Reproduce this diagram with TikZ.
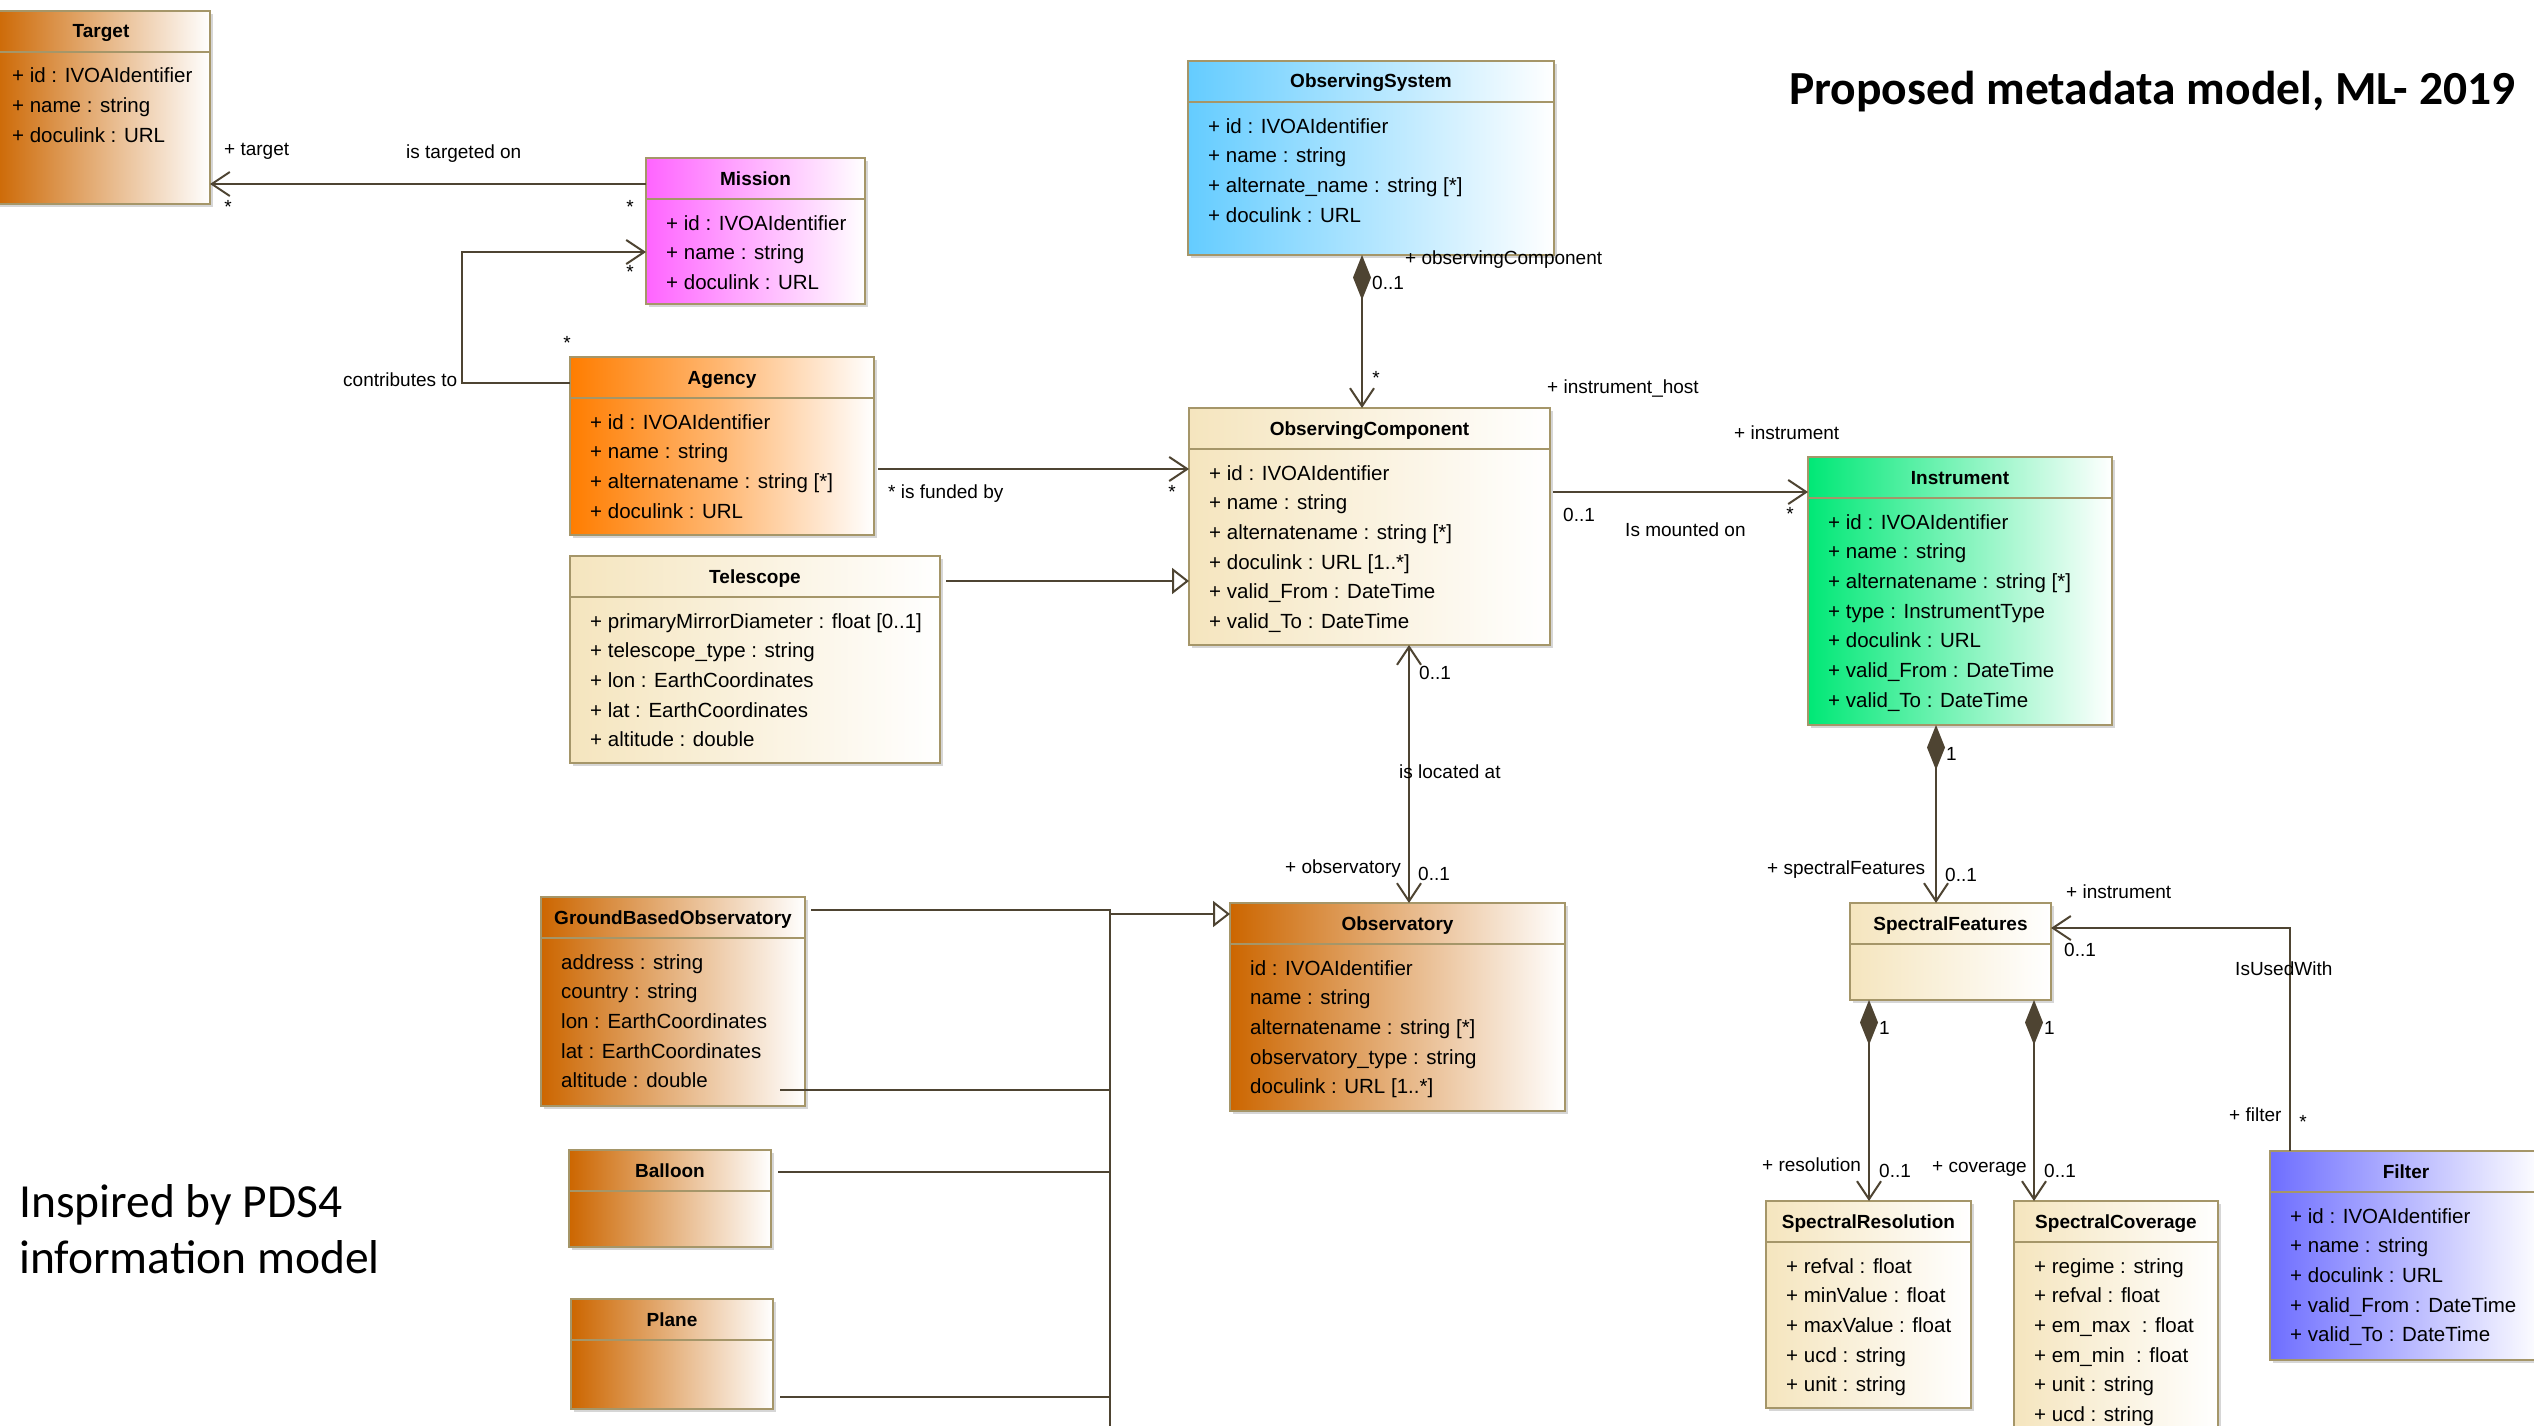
\documentclass[tikz,border=0pt]{standalone}
\usepackage{fontspec}
\setmainfont{Liberation Sans}
\newfontfamily\calib{Carlito}
\usetikzlibrary{arrows.meta,shadows,calc}

\definecolor{brownor}{RGB}{204,102,0}
\definecolor{agencyor}{RGB}{255,125,0}
\definecolor{magentac}{RGB}{255,100,255}
\definecolor{skyc}{RGB}{100,204,255}
\definecolor{greenc}{RGB}{0,232,118}
\definecolor{filterc}{RGB}{110,110,255}
\definecolor{creamc}{RGB}{245,229,190}
\definecolor{bordc}{RGB}{165,150,105}
\definecolor{linec}{RGB}{78,68,50}

\newcommand{\attrfont}{\fontsize{20.5}{24}\selectfont}
\newcommand{\lblfont}{\fontsize{19}{23}\selectfont}
\newcommand{\ttlfont}{\fontsize{19}{23}\selectfont\bfseries}

\tikzset{
  classbox/.style={draw=bordc, line width=2pt, anchor=north west, outer sep=0pt, inner sep=0pt,
    drop shadow={shadow xshift=3pt, shadow yshift=-3pt, fill=black!40, opacity=.4}},
  divider/.style={draw=bordc, line width=2pt},
  titletext/.style={font=\ttlfont, anchor=base, inner sep=0pt},
  attrtext/.style={font=\attrfont, anchor=base west, inner sep=0pt},
  lab/.style={font=\lblfont, anchor=base west, inner sep=0pt},
  starlab/.style={font=\lblfont, anchor=base, inner sep=0pt},
  assoc/.style={draw=linec, line width=2pt},
  myBarb/.tip={Straight Barb[length=18pt,width=24pt]},
  myDiam/.tip={Diamond[length=45pt,width=18pt]},
  myTri/.tip={Triangle[open,length=17pt,width=26pt,fill=white]},
  brownfill/.style={left color=brownor, right color=white},
  creamfill/.style={left color=creamc, right color=white},
}

% #1 name, #2 x, #3 y, #4 w, #5 h, #6 fill style, #7 title, #8 attributes
\newcommand{\umlclass}[8]{%
  \node[classbox, #6, minimum width=#4pt, minimum height=#5pt] (#1) at (#2,#3) {};
  \draw[divider] ([yshift=-41pt]#1.north west) -- ([yshift=-41pt]#1.north east);
  \node[titletext] (#1-t) at ([yshift=-27pt]#1.north) {#7};
  \foreach \myat [count=\myi] in {#8} {%
    \node[attrtext] (#1-a\myi) at ([xshift=20pt,yshift={-72pt-(\myi-1)*29.7pt}]#1.north west) {\myat};}
}

\begin{document}
\begin{tikzpicture}[x=1pt,y=-1pt]
\useasboundingbox (0,0) rectangle (2534,1426);
\clip (0,0) rectangle (2534,1426);
\fill[white] (0,0) rectangle (2534,1426);

% ---------- classes ----------
\umlclass{Target}{-8}{11}{218}{193}{brownfill}{Target}
  {{+ id : IVOAIdentifier},{+ name : string},{+ doculink : URL}}
\umlclass{Mission}{646}{158}{219}{146}{left color=magentac, right color=white}{Mission}
  {{+ id : IVOAIdentifier},{+ name : string},{+ doculink : URL}}
\umlclass{Agency}{570}{357}{304}{178}{left color=agencyor, right color=white, middle color=agencyor!55!white}{Agency}
  {{+ id : IVOAIdentifier},{+ name : string},{+ alternatename : string [*]},{+ doculink : URL}}
\umlclass{Telescope}{570}{556}{370}{207}{creamfill}{Telescope}
  {{+ primaryMirrorDiameter : float [0..1]},{+ telescope\_type : string},{+ lon : EarthCoordinates},{+ lat : EarthCoordinates},{+ altitude : double}}
\umlclass{OS}{1188}{61}{366}{194}{left color=skyc, right color=white}{ObservingSystem}
  {{+ id : IVOAIdentifier},{+ name : string},{+ alternate\_name : string [*]},{+ doculink : URL}}
\umlclass{OC}{1189}{408}{361}{237}{creamfill}{ObservingComponent}
  {{+ id : IVOAIdentifier},{+ name : string},{+ alternatename : string [*]},{+ doculink : URL [1..*]},{+ valid\_From : DateTime},{+ valid\_To : DateTime}}
\umlclass{Instrument}{1808}{457}{304}{268}{left color=greenc, right color=white}{Instrument}
  {{+ id : IVOAIdentifier},{+ name : string},{+ alternatename : string [*]},{+ type : InstrumentType},{+ doculink : URL},{+ valid\_From : DateTime},{+ valid\_To : DateTime}}
\umlclass{SF}{1850}{903}{201}{97}{creamfill}{SpectralFeatures}{}
\umlclass{SR}{1766}{1201}{205}{207}{creamfill}{SpectralResolution}
  {{+ refval : float},{+ minValue : float},{+ maxValue : float},{+ ucd : string},{+ unit : string}}
\umlclass{SC}{2014}{1201}{204}{240}{creamfill}{SpectralCoverage}
  {{+ regime : string},{+ refval : float},{+ em\_max\ \ : float},{+ em\_min\ \ : float},{+ unit : string},{+ ucd : string}}
\umlclass{Filter}{2270}{1151}{272}{209}{left color=filterc, right color=white}{Filter}
  {{+ id : IVOAIdentifier},{+ name : string},{+ doculink : URL},{+ valid\_From : DateTime},{+ valid\_To : DateTime}}
\umlclass{Observatory}{1230}{903}{335}{208}{brownfill}{Observatory}
  {{id : IVOAIdentifier},{name : string},{alternatename : string [*]},{observatory\_type : string},{doculink : URL [1..*]}}
\umlclass{GBO}{541}{897}{264}{209}{brownfill}{GroundBasedObservatory}
  {{address : string},{country : string},{lon : EarthCoordinates},{lat : EarthCoordinates},{altitude : double}}
\umlclass{Balloon}{569}{1150}{202}{97}{brownfill}{Balloon}{}
\umlclass{Plane}{571}{1299}{202}{110}{brownfill}{Plane}{}

% ---------- connectors ----------
% Mission -> Target
\coordinate (c1) at ($(Mission.north west)+(0,26)$);
\draw[assoc,-{myBarb}] (c1) -- (c1 -| Target.east);
% Agency -> Mission
\coordinate (c2a) at ($(Agency.north west)+(0,26)$);
\coordinate (c2b) at ($(Mission.north west)+(0,94)$);
\coordinate (k2) at ($(c2b)+(-184,0)$);
\draw[assoc,-{myBarb}] (c2a) -| (k2) -- (c2b);
% Agency -> ObservingComponent
\coordinate (c3) at ($(Agency.north east)+(4,112)$);
\draw[assoc,-{myBarb}] (c3) -- (c3 -| OC.west);
% Telescope -> ObservingComponent (generalization)
\coordinate (c4) at ($(Telescope.north east)+(6,25)$);
\draw[assoc,-{myTri}] (c4) -- (c4 -| OC.west);
% ObservingSystem -> ObservingComponent (composition)
\coordinate (c5) at ($(OS.south west)+(174,0)$);
\draw[assoc,{myDiam}-{myBarb}] (c5) -- (c5 |- OC.north);
% ObservingComponent -> Instrument
\coordinate (c6) at ($(OC.north east)+(3,84)$);
\draw[assoc,-{myBarb}] (c6) -- (c6 -| Instrument.west);
% Observatory <-> ObservingComponent
\coordinate (c7) at ($(OC.south west)+(220,0)$);
\draw[assoc,{myBarb}-{myBarb}] (c7) -- (c7 |- Observatory.north);
% Instrument -> SpectralFeatures (composition)
\coordinate (c8) at ($(Instrument.south west)+(128,0)$);
\draw[assoc,{myDiam}-{myBarb}] (c8) -- (c8 |- SF.north);
% Filter -> SpectralFeatures
\coordinate (c9a) at ($(Filter.north west)+(20,0)$);
\coordinate (c9b) at ($(SF.north east)+(0,25)$);
\draw[assoc,-{myBarb}] (c9a) |- (c9b);
% SpectralFeatures -> SpectralResolution / SpectralCoverage
\coordinate (c10) at ($(SF.south west)+(19,0)$);
\draw[assoc,{myDiam}-{myBarb}] (c10) -- (c10 |- SR.north);
\coordinate (c11) at ($(SF.south west)+(184,0)$);
\draw[assoc,{myDiam}-{myBarb}] (c11) -- (c11 |- SC.north);
% generalization tree to Observatory
\coordinate (trunk) at (1110,910);
\coordinate (trunkend) at (1110,1440);
\coordinate (g1) at ($(GBO.north east)+(6,13)$);
\draw[assoc] (g1) -- (g1 -| trunk) -- (trunkend);
\coordinate (g2) at ($(Observatory.north west)+(0,11)$);
\draw[assoc,-{myTri}] (g2 -| trunk) -- (g2);
\coordinate (g3) at ($(GBO.north east)+(-25,193)$);
\draw[assoc] (g3) -- (g3 -| trunk);
\coordinate (g4) at ($(Balloon.north east)+(7,22)$);
\draw[assoc] (g4) -- (g4 -| trunk);
\coordinate (g5) at ($(Plane.north east)+(7,98)$);
\draw[assoc] (g5) -- (g5 -| trunk);

% ---------- labels ----------
\node[lab] (l1) at (224,156) {+ target};
\node[lab] (l2) at (406,158) {is targeted on};
\node[starlab] (l3) at (228,213) {*};
\node[starlab] (l4) at (630,213) {*};
\node[lab] (l5) at (343,386) {contributes to};
\node[starlab] (l6) at (630,278) {*};
\node[starlab] (l7) at (567,349) {*};
\node[lab] (l8) at (888,498) {* is funded by};
\node[starlab] (l9) at (1172,498) {*};
\node[lab] (l10) at (1405,264) {+ observingComponent};
\node[lab] (l11) at (1372,289) {0..1};
\node[starlab] (l12) at (1376,384) {*};
\node[lab] (l13) at (1547,393) {+ instrument\_host};
\node[lab] (l14) at (1734,439) {+ instrument};
\node[lab] (l15) at (1563,521) {0..1};
\node[lab] (l16) at (1625,536) {Is mounted on};
\node[starlab] (l17) at (1790,520) {*};
\node[lab] (l18) at (1419,679) {0..1};
\node[lab] (l19) at (1399,778) {is located at};
\node[lab] (l20) at (1285,873) {+ observatory};
\node[lab] (l21) at (1418,880) {0..1};
\node[lab] (l22) at (1946,760) {1};
\node[lab] (l23) at (1767,874) {+ spectralFeatures};
\node[lab] (l24) at (1945,881) {0..1};
\node[lab] (l25) at (2066,898) {+ instrument};
\node[lab] (l26) at (2064,956) {0..1};
\node[lab] (l27) at (2235,975) {IsUsedWith};
\node[lab] (l28) at (2229,1121) {+ filter};
\node[starlab] (l29) at (2303,1128) {*};
\node[lab] (l30) at (1879,1034) {1};
\node[lab] (l31) at (1762,1171) {+ resolution};
\node[lab] (l32) at (1879,1177) {0..1};
\node[lab] (l33) at (2044,1034) {1};
\node[lab] (l34) at (1932,1172) {+ coverage};
\node[lab] (l35) at (2044,1177) {0..1};

% ---------- free texts ----------
\node[font={\calib\fontsize{47.5}{57}\selectfont\bfseries}, anchor=base west, inner sep=0pt] (title) at (1789,105) {Proposed metadata model, ML- 2019};
\node[font={\calib\fontsize{47.5}{57}\selectfont}, anchor=base west, inner sep=0pt] (note1) at (19,1217) {Inspired by PDS4};
\node[font={\calib\fontsize{47.5}{57}\selectfont}, anchor=base west, inner sep=0pt] (note2) at (19,1273) {information model};
\end{tikzpicture}
\end{document}
